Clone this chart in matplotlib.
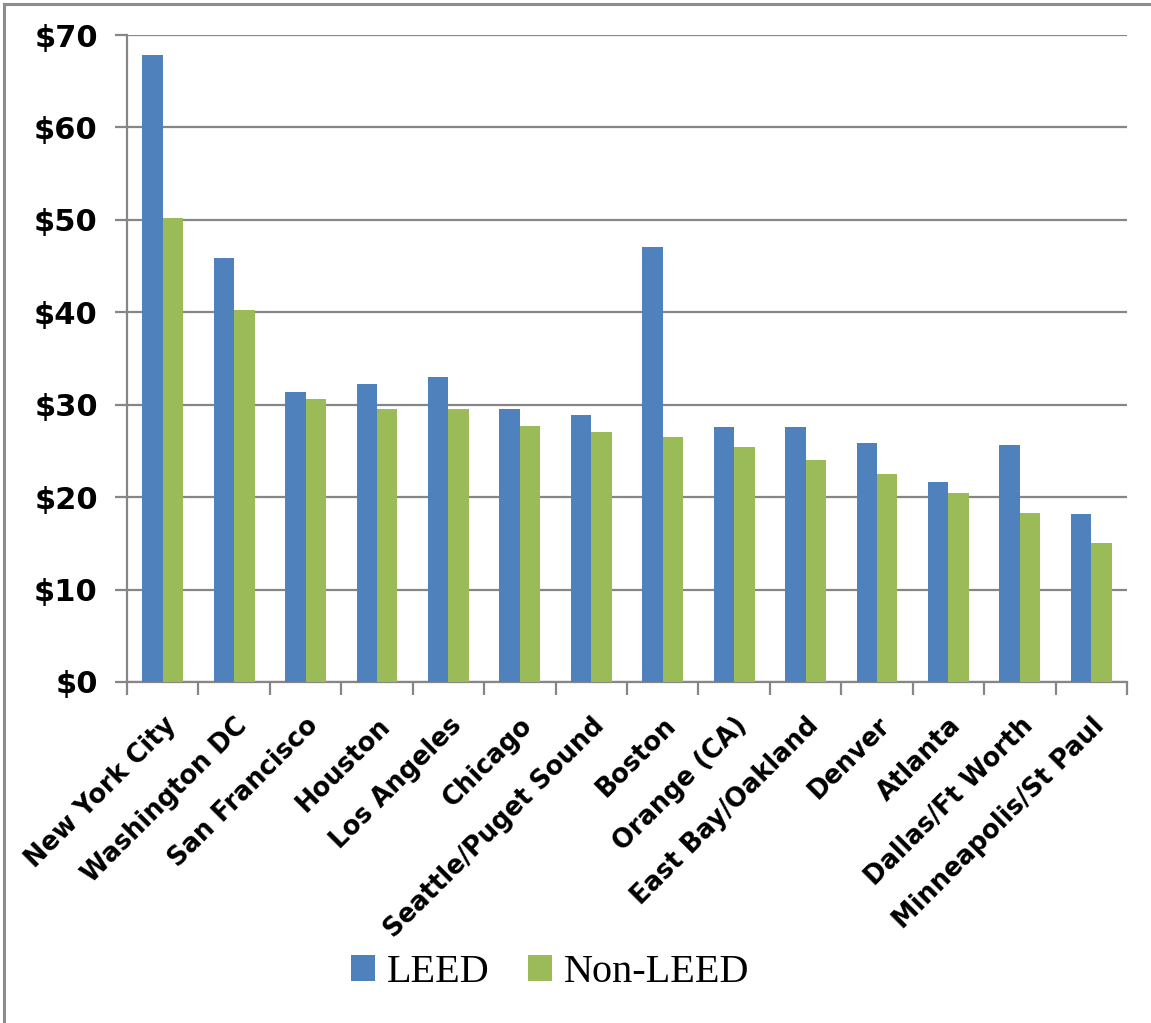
import matplotlib
matplotlib.use("Agg")
import matplotlib.pyplot as plt
import numpy as np
from matplotlib.patches import Patch
from matplotlib.lines import Line2D

cities = ["New York City", "Washington DC", "San Francisco", "Houston", "Los Angeles",
          "Chicago", "Seattle/Puget Sound", "Boston", "Orange (CA)", "East Bay/Oakland",
          "Denver", "Atlanta", "Dallas/Ft Worth", "Minneapolis/St Paul"]
leed = [67.8, 45.9, 31.4, 32.2, 33.0, 29.5, 28.9, 47.1, 27.6, 27.6, 25.9, 21.6, 25.6, 18.2]
non_leed = [50.2, 40.3, 30.6, 29.5, 29.5, 27.7, 27.1, 26.5, 25.4, 24.0, 22.5, 20.4, 18.3, 15.0]
yticks = [0, 10, 20, 30, 40, 50, 60, 70]
ytick_labels = ["$0", "$10", "$20", "$30", "$40", "$50", "$60", "$70"]

blue = "#4F81BD"
green = "#9BBB59"
grid_c = "#868686"

fig = plt.figure(figsize=(11.51, 10.23), dpi=100)
ax = fig.add_axes([127/1151, 1-682/1023, 1000/1151, 647/1023])

x = np.arange(len(cities))
w = 0.286
ax.bar(x - w/2, leed, width=w, color=blue, zorder=3)
ax.bar(x + w/2, non_leed, width=w, color=green, zorder=3)

ax.set_xlim(-0.5, len(cities) - 0.5)
ax.set_ylim(0, 70)
ax.set_yticks(yticks)
ax.set_yticklabels(ytick_labels, fontsize=22, fontweight="bold", family="DejaVu Sans")
ax.yaxis.grid(True, color=grid_c, linewidth=1.6, zorder=0)
ax.tick_params(axis="y", length=9, width=1.6, color=grid_c, pad=12)

ax.set_xticks(x)
ax.set_xticklabels(cities, rotation=45, ha="right", va="top", rotation_mode="anchor",
                   fontsize=18.5, fontweight="bold", family="DejaVu Sans")
ax.tick_params(axis="x", which="major", length=0, pad=22)
ax.set_xticks(np.arange(-0.5, len(cities)), minor=True)
ax.tick_params(axis="x", which="minor", length=9, width=1.6, color=grid_c)

for s in ["top", "right"]:
    ax.spines[s].set_visible(False)
for s in ["left", "bottom"]:
    ax.spines[s].set_color(grid_c)
    ax.spines[s].set_linewidth(1.6)

handles = [Patch(facecolor=blue, label="LEED"), Patch(facecolor=green, label="Non-LEED")]
fig.legend(handles=handles, loc="center", bbox_to_anchor=(550/1151, 1-973/1023), ncol=2,
           frameon=False, prop={"family": "Liberation Serif", "size": 29},
           handlelength=0.59, handleheight=0.62, handletextpad=0.3, columnspacing=0.95)

fig.add_artist(Line2D([3.5/1151, 3.5/1151], [0, 1-3.5/1023], transform=fig.transFigure,
                      color="#8c8c8c", linewidth=2.2))
fig.add_artist(Line2D([3.5/1151, 1], [1-3.5/1023, 1-3.5/1023], transform=fig.transFigure,
                      color="#8c8c8c", linewidth=2.2))

fig.savefig("out.png", dpi=100)
